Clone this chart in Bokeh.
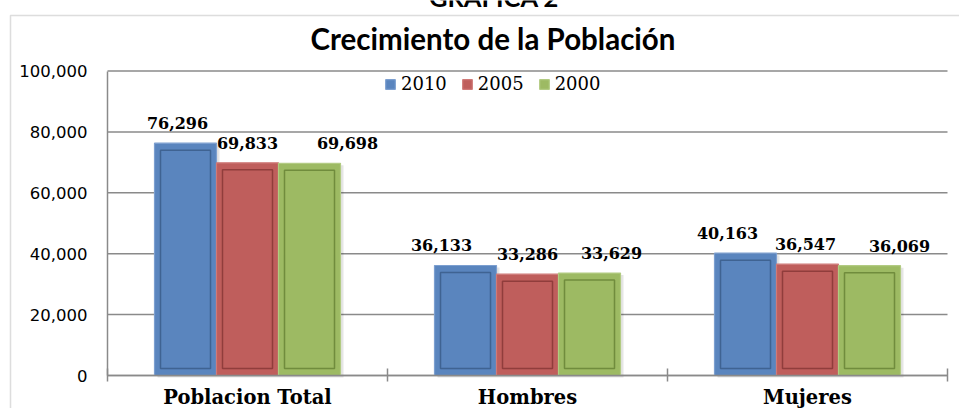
from bokeh.plotting import figure
from bokeh.models import (FixedTicker, Legend, LegendItem, Label, BoxAnnotation,
                          ColumnDataSource, NumeralTickFormatter, Range1d)
from bokeh.core.properties import value
from bokeh.embed import file_html
from bokeh.resources import INLINE

# ---------------- data ----------------
categories = ["Poblacion Total", "Hombres", "Mujeres"]
years = ["2010", "2005", "2000"]
pop_2010 = [76296, 36133, 40163]
pop_2005 = [69833, 33286, 36547]
pop_2000 = [69698, 33629, 36069]
y_ticks = [0, 20000, 40000, 60000, 80000, 100000]
title_text = "Crecimiento de la Población"
heading_text = "GRAFICA 2"

# ---------------- style ----------------
fills = ["#5A85BE", "#BF5E5C", "#9DBA63"]
edges = ["#7C9FD0", "#D07A78", "#B2CB82"]
inner = ["#3C5F8D", "#8B3A38", "#6B8739"]
# per-label horizontal nudges (px), as placed in the original chart
nudges = [[-8, 0, 38], [-24, 0, 22], [-18, -2, 30]]

W, H = 959, 408
# plot area inside the canvas (px)
PX0, PX1, PY_TOP, PY0 = 107, 947, 70.5, 375
ncat = len(categories)
YMAX = y_ticks[-1]
dx = ncat / (PX1 - PX0)          # data units per px (x)
dy = YMAX / (PY0 - PY_TOP)       # data units per px (y)

x_range = Range1d(-PX0 * dx, (W - PX0) * dx)
y_range = Range1d(-(H - PY0) * dy, PY0 * dy)

p = figure(width=W, height=H, x_range=x_range, y_range=y_range,
           output_backend="svg", toolbar_location=None, title=None,
           min_border=0, min_border_left=0, min_border_right=0,
           min_border_top=0, min_border_bottom=0)
p.outline_line_color = None
p.background_fill_color = "white"
p.border_fill_color = "white"
p.xgrid.visible = False
p.ygrid.visible = False

GRAY = "#8a8a8a"

# gridlines over the plot area only
p.segment(x0=[0] * len(y_ticks), x1=[ncat] * len(y_ticks), y0=y_ticks, y1=y_ticks,
          line_color=GRAY, line_width=1.5)

# y axis
p.yaxis.fixed_location = 0
p.yaxis.bounds = (0, YMAX)
p.yaxis.ticker = FixedTicker(ticks=y_ticks)
p.yaxis.formatter = NumeralTickFormatter(format="0,0")
p.yaxis.axis_line_color = GRAY
p.yaxis.axis_line_width = 1.5
p.yaxis.major_tick_out = 0
p.yaxis.major_tick_in = 0
p.yaxis.minor_tick_out = 0
p.yaxis.minor_tick_in = 0
p.yaxis.major_label_standoff = 20
p.yaxis.major_label_text_font = "DejaVu Sans"
p.yaxis.major_label_text_font_size = "16.5px"
p.yaxis.major_label_text_color = "black"

# x axis
centers = [i + 0.5 for i in range(ncat)]
p.xaxis.fixed_location = 0
p.xaxis.bounds = (0, ncat)
p.xaxis.ticker = FixedTicker(ticks=centers, minor_ticks=list(range(ncat + 1)))
p.xaxis.major_label_overrides = {c: name for c, name in zip(centers, categories)}
p.xaxis.axis_line_color = GRAY
p.xaxis.axis_line_width = 1.5
p.xaxis.major_tick_out = 0
p.xaxis.major_tick_in = 0
p.xaxis.minor_tick_out = 6
p.xaxis.minor_tick_in = 7
p.xaxis.minor_tick_line_color = GRAY
p.xaxis.minor_tick_line_width = 1.5
p.xaxis.major_label_standoff = 4
p.xaxis.major_label_text_font = "DejaVu Serif"
p.xaxis.major_label_text_font_style = "bold"
p.xaxis.major_label_text_font_size = "19.5px"
p.xaxis.major_label_text_color = "black"

# bars
bar_w = 62 * dx
series = [pop_2010, pop_2005, pop_2000]
offsets = [-bar_w, 0.0, bar_w]
legend_items = []
for i, vals in enumerate(series):
    xs = [c + offsets[i] for c in centers]
    src = ColumnDataSource(dict(x=xs, top=vals,
                                xs=[x + 3 * dx for x in xs],
                                stop=[v - 2 * dy for v in vals],
                                itop=[v - 7 * dy for v in vals]))
    p.vbar(x="xs", top="stop", bottom=-2 * dy, width=bar_w, source=src,
           fill_color="black", fill_alpha=0.10, line_color=None)
    r = p.vbar(x="x", top="top", bottom=0, width=bar_w, source=src,
               fill_color=fills[i], line_color=edges[i], line_width=1.2)
    p.vbar(x="x", top="itop", bottom=7 * dy, width=bar_w - 12 * dx, source=src,
           fill_color=None, line_color=inner[i], line_width=1.5, line_alpha=0.9)
    legend_items.append(LegendItem(label=years[i], renderers=[r]))

# data labels
for i, vals in enumerate(series):
    xs = [c + offsets[i] for c in centers]
    lsrc = ColumnDataSource(dict(x=xs, y=vals, t=[f"{v:,}" for v in vals],
                                 xo=[nudges[j][i] for j in range(ncat)]))
    p.text(x="x", y="y", text="t", x_offset="xo", y_offset=-20, source=lsrc,
           text_align="center", text_baseline="middle",
           text_font=value("DejaVu Serif"), text_font_style="bold",
           text_font_size="16px", text_color="black")

legend = Legend(items=legend_items, location=(384, H - 94), orientation="horizontal",
                padding=0, margin=0, border_line_color=None,
                background_fill_alpha=0, glyph_width=12, glyph_height=12,
                label_standoff=5, spacing=14,
                label_text_font="DejaVu Serif", label_text_font_size="18px",
                label_text_color="black")
p.add_layout(legend)

# title and heading
p.add_layout(Label(x=(492.5 - PX0) * dx, y=(PY0 - 38) * dy, text=title_text,
                   text_align="center", text_baseline="alphabetic",
                   text_font="Lato", text_font_style="bold", text_font_size="29.5px",
                   text_color="black"))
p.add_layout(Label(x=(493.5 - PX0) * dx, y=(PY0 + 4) * dy, text=heading_text,
                   text_align="center", text_baseline="alphabetic",
                   text_font="Lato", text_font_style="bold", text_font_size="25.5px",
                   text_color="black"))

# chart-area border (its right and bottom edges lie beyond the picture)
p.add_layout(BoxAnnotation(left=(10 - PX0) * dx, right=(W + 20 - PX0) * dx,
                           top=(PY0 - 15) * dy, bottom=-(H + 20 - PY0) * dy,
                           fill_alpha=0, line_color="#909090", line_width=1.5,
                           level="underlay"))

open("out.html", "w").write(file_html(p, INLINE))
